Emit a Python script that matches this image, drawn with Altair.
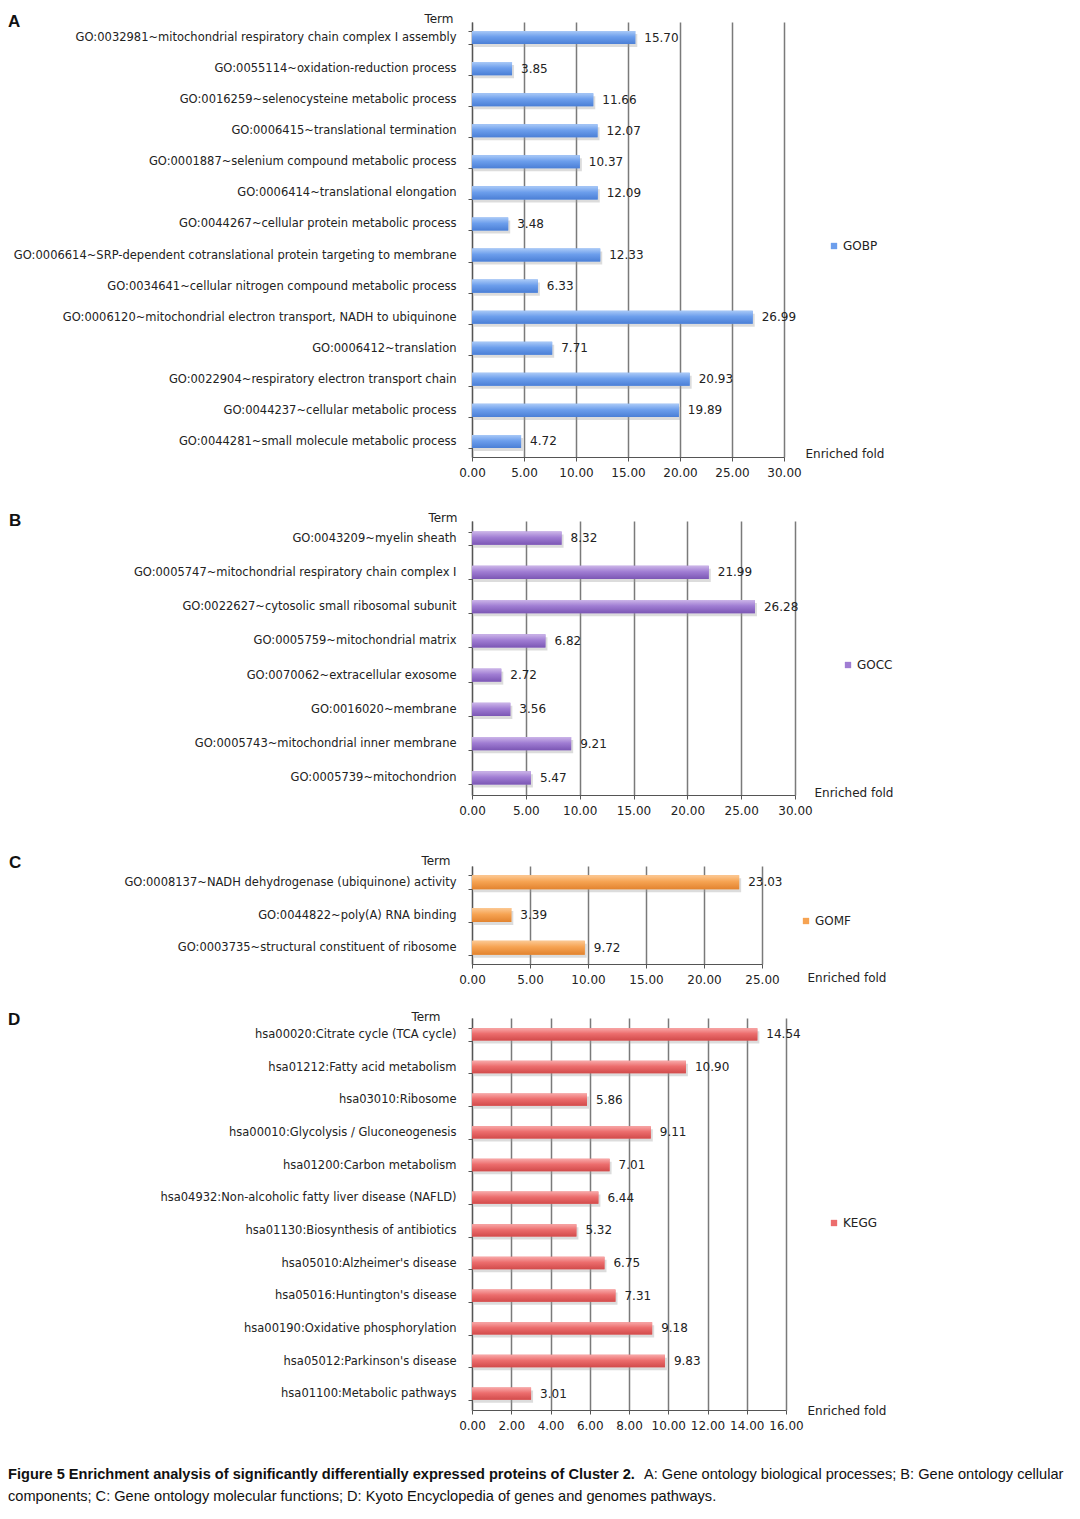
import altair as alt
import pandas as pd

FONT = "DejaVu Sans"
CAP_FONT = "Liberation Sans Narrow, Liberation Sans, Arial"

# ---------------- data ----------------
bp_terms = [
    "GO:0032981~mitochondrial respiratory chain complex I assembly",
    "GO:0055114~oxidation-reduction process",
    "GO:0016259~selenocysteine metabolic process",
    "GO:0006415~translational termination",
    "GO:0001887~selenium compound metabolic process",
    "GO:0006414~translational elongation",
    "GO:0044267~cellular protein metabolic process",
    "GO:0006614~SRP-dependent cotranslational protein targeting to membrane",
    "GO:0034641~cellular nitrogen compound metabolic process",
    "GO:0006120~mitochondrial electron transport, NADH to ubiquinone",
    "GO:0006412~translation",
    "GO:0022904~respiratory electron transport chain",
    "GO:0044237~cellular metabolic process",
    "GO:0044281~small molecule metabolic process",
]
bp_values = [15.70, 3.85, 11.66, 12.07, 10.37, 12.09, 3.48, 12.33, 6.33, 26.99, 7.71, 20.93, 19.89, 4.72]
bp_ticks = [0, 5, 10, 15, 20, 25, 30]

cc_terms = [
    "GO:0043209~myelin sheath",
    "GO:0005747~mitochondrial respiratory chain complex I",
    "GO:0022627~cytosolic small ribosomal subunit",
    "GO:0005759~mitochondrial matrix",
    "GO:0070062~extracellular exosome",
    "GO:0016020~membrane",
    "GO:0005743~mitochondrial inner membrane",
    "GO:0005739~mitochondrion",
]
cc_values = [8.32, 21.99, 26.28, 6.82, 2.72, 3.56, 9.21, 5.47]
cc_ticks = [0, 5, 10, 15, 20, 25, 30]

mf_terms = [
    "GO:0008137~NADH dehydrogenase (ubiquinone) activity",
    "GO:0044822~poly(A) RNA binding",
    "GO:0003735~structural constituent of ribosome",
]
mf_values = [23.03, 3.39, 9.72]
mf_ticks = [0, 5, 10, 15, 20, 25]

kegg_terms = [
    "hsa00020:Citrate cycle (TCA cycle)",
    "hsa01212:Fatty acid metabolism",
    "hsa03010:Ribosome",
    "hsa00010:Glycolysis / Gluconeogenesis",
    "hsa01200:Carbon metabolism",
    "hsa04932:Non-alcoholic fatty liver disease (NAFLD)",
    "hsa01130:Biosynthesis of antibiotics",
    "hsa05010:Alzheimer's disease",
    "hsa05016:Huntington's disease",
    "hsa00190:Oxidative phosphorylation",
    "hsa05012:Parkinson's disease",
    "hsa01100:Metabolic pathways",
]
kegg_values = [14.54, 10.90, 5.86, 9.11, 7.01, 6.44, 5.32, 6.75, 7.31, 9.18, 9.83, 3.01]
kegg_ticks = [0, 2, 4, 6, 8, 10, 12, 14, 16]

caption_bold = "Figure 5  Enrichment analysis of significantly differentially expressed proteins of Cluster 2."
caption_rest1 = "A: Gene ontology biological processes; B: Gene ontology cellular"
caption_line2 = "components; C: Gene ontology molecular functions; D: Kyoto Encyclopedia of genes and genomes pathways."


def grad(top, mid, bottom):
    return alt.Gradient(
        gradient="linear", x1=0, x2=0, y1=0, y2=1,
        stops=[alt.GradientStop(color=top, offset=0),
               alt.GradientStop(color=mid, offset=0.45),
               alt.GradientStop(color=bottom, offset=1)],
    )


def marker(yv, baseline):
    return alt.Chart(pd.DataFrame({"t": ["."]})).mark_text(
        opacity=0, fontSize=2, baseline=baseline
    ).encode(x=alt.value(0), y=alt.value(yv), text="t:N")


def panel(letter, terms, values, name, colors, xmax, ticks, width, height, pad,
          leg_xy, term_x, term_y, xt_dx, xt_y, letter_xy, top_m, bot_m, extra=None):
    df = pd.DataFrame({"term": terms, "fold": values, "set": [name] * len(terms)})
    base = alt.Chart(df)
    y = alt.Y(
        "term:N", sort=terms, title="Term",
        scale=alt.Scale(paddingInner=pad, paddingOuter=pad / 2),
        axis=alt.Axis(
            tickBand="extent", tickSize=4, labelPadding=12, labelFontSize=11.5,
            labelFont=FONT, labelColor="#222", labelLimit=0,
            domainColor="#555", tickColor="#555", domainWidth=1.2,
            titleAngle=0, titleAlign="right", titleBaseline="middle",
            titleX=term_x, titleY=term_y, titleFontWeight="normal",
            titleFontSize=12, titleFont=FONT, titleColor="#222",
        ),
    )
    x = alt.X(
        "fold:Q", title="Enriched fold",
        scale=alt.Scale(domain=[0, xmax], nice=False, zero=True),
        axis=alt.Axis(
            values=ticks, format=".2f", grid=True, gridColor="#7a7a7a",
            gridWidth=1.5, tickSize=4, tickColor="#555", domainColor="#555",
            domainWidth=1.2, labelPadding=6, labelFontSize=12, labelFont=FONT,
            labelColor="#222", labelOverlap=False, labelFlush=False,
            titleAlign="left", titleBaseline="middle", titleX=width + xt_dx,
            titleY=xt_y, titleFontWeight="normal", titleFontSize=12,
            titleFont=FONT, titleColor="#222",
        ),
    )
    shadow = base.mark_bar(color="#9a9a9a", opacity=0.35, xOffset=2, yOffset=3).encode(x=x, y=y)
    solid = base.mark_bar().encode(
        x=x, y=y,
        color=alt.Color(
            "set:N", scale=alt.Scale(domain=[name], range=[colors[1]]),
            legend=alt.Legend(
                title=None, orient="none", legendX=leg_xy[0], legendY=leg_xy[1],
                symbolType="square", symbolSize=40, symbolStrokeWidth=0,
                labelFontSize=12, labelFont=FONT, labelColor="#222",
                padding=0, labelOffset=3,
            ),
        ),
    )
    gbar = base.mark_bar(color=grad(*colors)).encode(x=x, y=y)
    labels = base.mark_text(align="left", dx=9, font=FONT, fontSize=12, color="#222").encode(
        x=x, y=y, text=alt.Text("fold:Q", format=".2f"))
    let = alt.Chart(pd.DataFrame({"t": [letter]})).mark_text(
        align="left", baseline="middle", fontWeight="bold", fontSize=17,
        font="Liberation Sans, Arial", color="#111",
    ).encode(x=alt.value(letter_xy[0]), y=alt.value(letter_xy[1]), text="t:N")
    layers = [shadow, solid, gbar, labels, let, marker(-top_m, "top")]
    if bot_m is not None:
        layers.append(marker(height + bot_m, "bottom"))
    if extra:
        layers.extend(extra)
    return alt.layer(*layers).properties(width=width, height=height)


def caption_layers(height):
    size = 14.6
    c1 = alt.Chart(pd.DataFrame({"t": [caption_bold]})).mark_text(
        align="left", baseline="middle", font=CAP_FONT, fontSize=size,
        fontWeight="bold", color="#111",
    ).encode(x=alt.value(-464), y=alt.value(height + 65), text="t:N")
    c2 = alt.Chart(pd.DataFrame({"t": [caption_rest1]})).mark_text(
        align="left", baseline="middle", font=CAP_FONT, fontSize=size, color="#111",
    ).encode(x=alt.value(172), y=alt.value(height + 65), text="t:N")
    c3 = alt.Chart(pd.DataFrame({"t": [caption_line2]})).mark_text(
        align="left", baseline="middle", font=CAP_FONT, fontSize=size, color="#111",
    ).encode(x=alt.value(-464), y=alt.value(height + 87), text="t:N")
    return [c1, c2, c3]


pA = panel("A", bp_terms, bp_values, "GOBP", ("#a9c9f7", "#6c9eec", "#4b7fd6"),
           30, bp_ticks, 312, 435, 0.58, (356, 218), -19, -4, 21, -4, (-464, 0), 14, 34)
pB = panel("B", cc_terms, cc_values, "GOCC", ("#cbb4e8", "#a07dd3", "#7c57b5"),
           30, cc_ticks, 323, 274, 0.62, (370, 138), -15, -4, 19, -3, (-463, 0), 30, 41)
pC = panel("C", mf_terms, mf_values, "GOMF", ("#fcc994", "#f6a352", "#e2832f"),
           25, mf_ticks, 290, 98, 0.57, (328, 49), -22, -6, 45, 13, (-463, -3), 30, 24)
pD = panel("D", kegg_terms, kegg_values, "KEGG", ("#f8a9a9", "#ec6d6d", "#d24b4b"),
           16, kegg_ticks, 314, 392, 0.62, (356, 199), -32, -2, 21, 0, (-464, 2), 30, None,
           extra=caption_layers(392))

chart = alt.vconcat(pA, pB, pC, pD, spacing=0).resolve_scale(
    x="independent", y="independent", color="independent"
).resolve_legend(color="independent").properties(padding=0).configure_view(strokeWidth=0)

chart.save("out.html", embed_options={"renderer": "svg", "actions": False})
